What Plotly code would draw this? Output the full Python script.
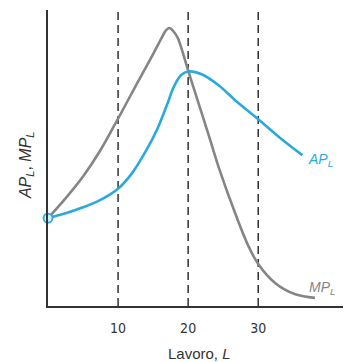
import plotly.graph_objects as go

# Labour input (L) and product values for the two curves
mp_L = [0, 2.5, 5, 7.5, 10, 12.5, 15, 16.2, 16.8, 17.3, 17.9, 18.5, 18.9, 20,
        21.5, 23, 24.4, 26.7, 28.6, 30, 32.4, 35.3, 38.1]
mp_val = [29.3, 35.9, 43.2, 52, 62.5, 73.3, 84, 89.3, 91.8, 92.7, 91.6, 89.5, 87, 78.5,
          67.5, 56.5, 46, 31, 20, 14, 7.7, 3.9, 2.7]

ap_L = [0, 2.5, 5, 7.5, 10, 12, 14, 15.5, 17, 18, 19, 20, 22, 24.3, 27, 30, 33, 36.3]
ap_val = [29.3, 30.9, 32.9, 35.4, 39.1, 44.3, 51.8, 58.5, 67.2, 73.3, 77, 78.2,
          77.2, 73.7, 68, 62.3, 56.3, 50.3]

guide_L = [10, 20, 30]
tick_vals = [10, 20, 30]
tick_text = ["10", "20", "30"]

BLUE = "#2aaadc"
GRAY = "#858585"
NARROW = "Liberation Sans Narrow, DejaVu Sans Condensed, Liberation Sans, Arial"
REGULAR = "Liberation Sans, Arial"

fig = go.Figure()

fig.add_trace(go.Scatter(x=mp_L, y=mp_val, mode="lines",
                         line=dict(color=GRAY, width=2.6, shape="spline", smoothing=1.0),
                         hoverinfo="skip"))
fig.add_trace(go.Scatter(x=ap_L, y=ap_val, mode="lines",
                         line=dict(color=BLUE, width=2.6, shape="spline", smoothing=1.0),
                         hoverinfo="skip"))
fig.add_trace(go.Scatter(x=[ap_L[0]], y=[ap_val[0]], mode="markers",
                         marker=dict(size=9, color="#d4f0fb", line=dict(color=BLUE, width=1.8)),
                         hoverinfo="skip", cliponaxis=False))

for g in guide_L:
    fig.add_shape(type="line", x0=g, x1=g, y0=0, y1=1, xref="x", yref="paper",
                  line=dict(color="#222222", width=1.4, dash="8px,5px"), layer="below")

fig.add_annotation(x=38.9, y=48.8, text="<i>AP<sub>L</sub></i>", showarrow=False,
                   font=dict(family=REGULAR, size=14, color=BLUE))
fig.add_annotation(x=39.1, y=6.0, text="<i>MP<sub>L</sub></i>", showarrow=False,
                   font=dict(family=REGULAR, size=14, color=GRAY))

fig.add_annotation(x=0.515, y=-0.159, xref="paper", yref="paper", yanchor="middle",
                   text="Lavoro, <i>L</i>", showarrow=False,
                   font=dict(family=REGULAR, size=15, color="#333333"))
fig.add_annotation(x=-0.0746, y=0.476, xref="paper", yref="paper", textangle=-90,
                   xanchor="center", yanchor="middle",
                   text="<i>AP<sub>L</sub></i>, <i>MP<sub>L</sub></i>", showarrow=False,
                   font=dict(family=REGULAR, size=16, color="#333333"))

fig.update_layout(
    width=350, height=362,
    margin=dict(l=48, r=7, t=10, b=56),
    paper_bgcolor="white", plot_bgcolor="white",
    showlegend=False,
    xaxis=dict(range=[0, 42.1], showgrid=False, zeroline=False,
               showline=True, linecolor="#333333", linewidth=2,
               tickvals=tick_vals, ticktext=tick_text, ticks="",
               ticklabelstandoff=8,
               tickfont=dict(family=NARROW, size=14, color="#333333")),
    yaxis=dict(range=[0, 98.7], showgrid=False, zeroline=False,
               showline=True, linecolor="#333333", linewidth=2,
               showticklabels=False, ticks=""),
)

fig.write_html("out.html")
